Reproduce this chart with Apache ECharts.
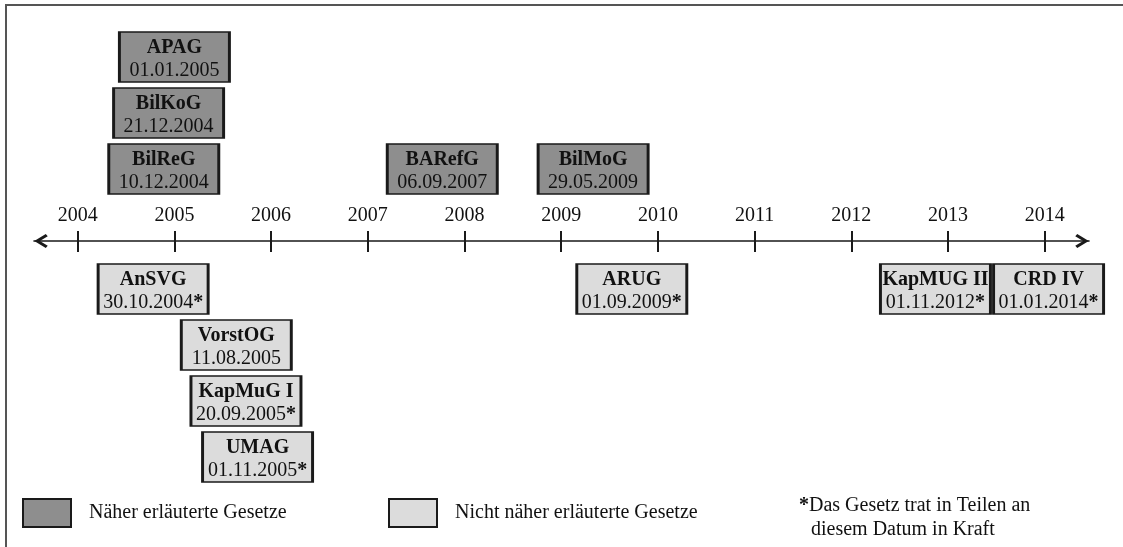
<!DOCTYPE html>
<html>
<head>
<meta charset="utf-8">
<script src="https://cdn.jsdelivr.net/npm/echarts@6/dist/echarts.min.js"></script>
<style>
html,body{margin:0;padding:0;background:#fff;}
#chart{width:1123px;height:547px;}
</style>
</head>
<body>
<div id="chart"></div>
<script>
// ---- data ----
const YEARS = [2004, 2005, 2006, 2007, 2008, 2009, 2010, 2011, 2012, 2013, 2014];
const LAW_NAMES = ['APAG', 'BilKoG', 'BilReG', 'BARefG', 'BilMoG', 'AnSVG', 'VorstOG', 'KapMuG I', 'UMAG', 'ARUG', 'KapMUG II', 'CRD IV'];
const LAW_DATES = ['01.01.2005', '21.12.2004', '10.12.2004', '06.09.2007', '29.05.2009', '30.10.2004*', '11.08.2005', '20.09.2005*', '01.11.2005*', '01.09.2009*', '01.11.2012*', '01.01.2014*'];
const LAW_POS = [2005.00, 2004.94, 2004.89, 2007.77, 2009.33, 2004.78, 2005.64, 2005.74, 2005.86, 2009.73, 2012.87, 2014.04];
const LAW_LANE = [3, 2, 1, 1, 1, -1, -2, -3, -4, -1, -1, -1];
const LAW_DETAILED = [true, true, true, true, true, false, false, false, false, false, false, false];
const LEGEND_NAMES = ['Näher erläuterte Gesetze', 'Nicht näher erläuterte Gesetze'];
const NOTE_LINES = ['Das Gesetz trat in Teilen an', 'diesem Datum in Kraft'];

const FONT = '"Liberation Serif", "Times New Roman", serif';
const DARK = '#8e8e8e';
const LIGHT = '#dcdcdc';
const BORDER = '#1a1a1a';

function buildData(detailed, above) {
  const out = [];
  LAW_NAMES.forEach((n, i) => {
    if (LAW_DETAILED[i] !== detailed) return;
    if ((LAW_LANE[i] > 0) !== above) return;
    out.push({ value: [LAW_POS[i], LAW_LANE[i]], name: n, date: LAW_DATES[i] });
  });
  return out;
}

const labelCfg = {
  show: true,
  position: 'inside',
  offset: [0, 2],
  formatter: p => {
    const d = p.data.date;
    const star = d.endsWith('*');
    const base = star ? d.slice(0, -1) : d;
    return '{t|' + p.data.name + '}\n{d|' + base + '}' + (star ? '{s|*}' : '');
  },
  rich: {
    t: { fontFamily: FONT, fontSize: 20, fontWeight: 'bold', color: '#111', lineHeight: 23 },
    d: { fontFamily: FONT, fontSize: 20, color: '#111', lineHeight: 23 },
    s: { fontFamily: FONT, fontSize: 20, fontWeight: 'bold', color: '#111', lineHeight: 23 }
  }
};

const chevron = 'path://M7,0 L14,11.5 L11.8,13.5 L7,5.6 L2.2,13.5 L0,11.5 Z';

function boxSeries(kindIdx, above) {
  const detailed = kindIdx === 0;
  return {
    name: LEGEND_NAMES[kindIdx], type: 'scatter',
    xAxisIndex: above ? 0 : 1, yAxisIndex: above ? 0 : 1,
    symbol: 'rect', symbolSize: [110, 50],
    symbolOffset: above ? [0, -16] : [0, -8],
    clip: false,
    itemStyle: { color: detailed ? DARK : LIGHT, borderColor: BORDER, borderWidth: 2, opacity: 1 },
    label: labelCfg,
    emphasis: { disabled: true },
    data: buildData(detailed, above)
  };
}

const X_MIN = 2003.548, X_MAX = 2014.458;

const chart = echarts.init(document.getElementById('chart'), null, { renderer: 'canvas' });
chart.setOption({
  animation: false,
  backgroundColor: '#fff',
  grid: [
    { left: 34, right: 34, top: 17, height: 224, outerBoundsMode: 'none', containLabel: false },
    { left: 34, right: 34, top: 241, height: 280, outerBoundsMode: 'none', containLabel: false }
  ],
  xAxis: [
    {
      type: 'value', gridIndex: 0, position: 'bottom', min: X_MIN, max: X_MAX,
      splitLine: { show: false },
      axisLine: {
        show: true, onZero: false,
        symbol: [chevron, chevron],
        symbolSize: [14, 14],
        symbolOffset: [7, -7],
        lineStyle: { color: '#1a1a1a', width: 1.6 }
      },
      axisTick: { show: true, inside: true, customValues: YEARS, length: 10, lineStyle: { color: '#1a1a1a', width: 2 } },
      axisLabel: {
        show: true, inside: true, customValues: YEARS, margin: 15,
        formatter: v => String(v),
        fontFamily: FONT, fontSize: 20, color: '#111'
      }
    },
    {
      type: 'value', gridIndex: 1, position: 'top', min: X_MIN, max: X_MAX,
      splitLine: { show: false },
      axisLine: { show: false, onZero: false },
      axisTick: { show: true, inside: true, customValues: YEARS, length: 11, lineStyle: { color: '#1a1a1a', width: 2 } },
      axisLabel: { show: false }
    }
  ],
  yAxis: [
    { type: 'value', gridIndex: 0, min: 0, max: 4, show: false, splitLine: { show: false } },
    { type: 'value', gridIndex: 1, min: -5, max: 0, show: false, splitLine: { show: false } }
  ],
  legend: [
    {
      data: [LEGEND_NAMES[0]], left: 22, top: 498, padding: 0, icon: 'rect',
      itemWidth: 48, itemHeight: 28,
      itemStyle: { borderColor: BORDER, borderWidth: 2 },
      textStyle: { fontFamily: FONT, fontSize: 20, color: '#111', padding: [5, 0, 0, 13] },
      selectedMode: false
    },
    {
      data: [LEGEND_NAMES[1]], left: 388, top: 498, padding: 0, icon: 'rect',
      itemWidth: 48, itemHeight: 28,
      itemStyle: { borderColor: BORDER, borderWidth: 2 },
      textStyle: { fontFamily: FONT, fontSize: 20, color: '#111', padding: [5, 0, 0, 13] },
      selectedMode: false
    }
  ],
  series: [
    boxSeries(0, true), boxSeries(0, false),
    boxSeries(1, true), boxSeries(1, false)
  ],
  graphic: [
    { type: 'rect', shape: { x: 6, y: 5, width: 1200, height: 600 }, style: { fill: 'none', stroke: '#555', lineWidth: 2 }, silent: true },
    {
      type: 'text', left: 799, top: 496,
      style: {
        text: '{s|*}{n|' + NOTE_LINES[0] + '}',
        rich: {
          s: { fontFamily: FONT, fontSize: 20, fontWeight: 'bold', fill: '#111' },
          n: { fontFamily: FONT, fontSize: 20, fill: '#111' }
        }
      }
    },
    {
      type: 'text', left: 811, top: 520,
      style: { text: NOTE_LINES[1], fontFamily: FONT, fontSize: 20, fill: '#111' }
    }
  ]
});
</script>
</body>
</html>
